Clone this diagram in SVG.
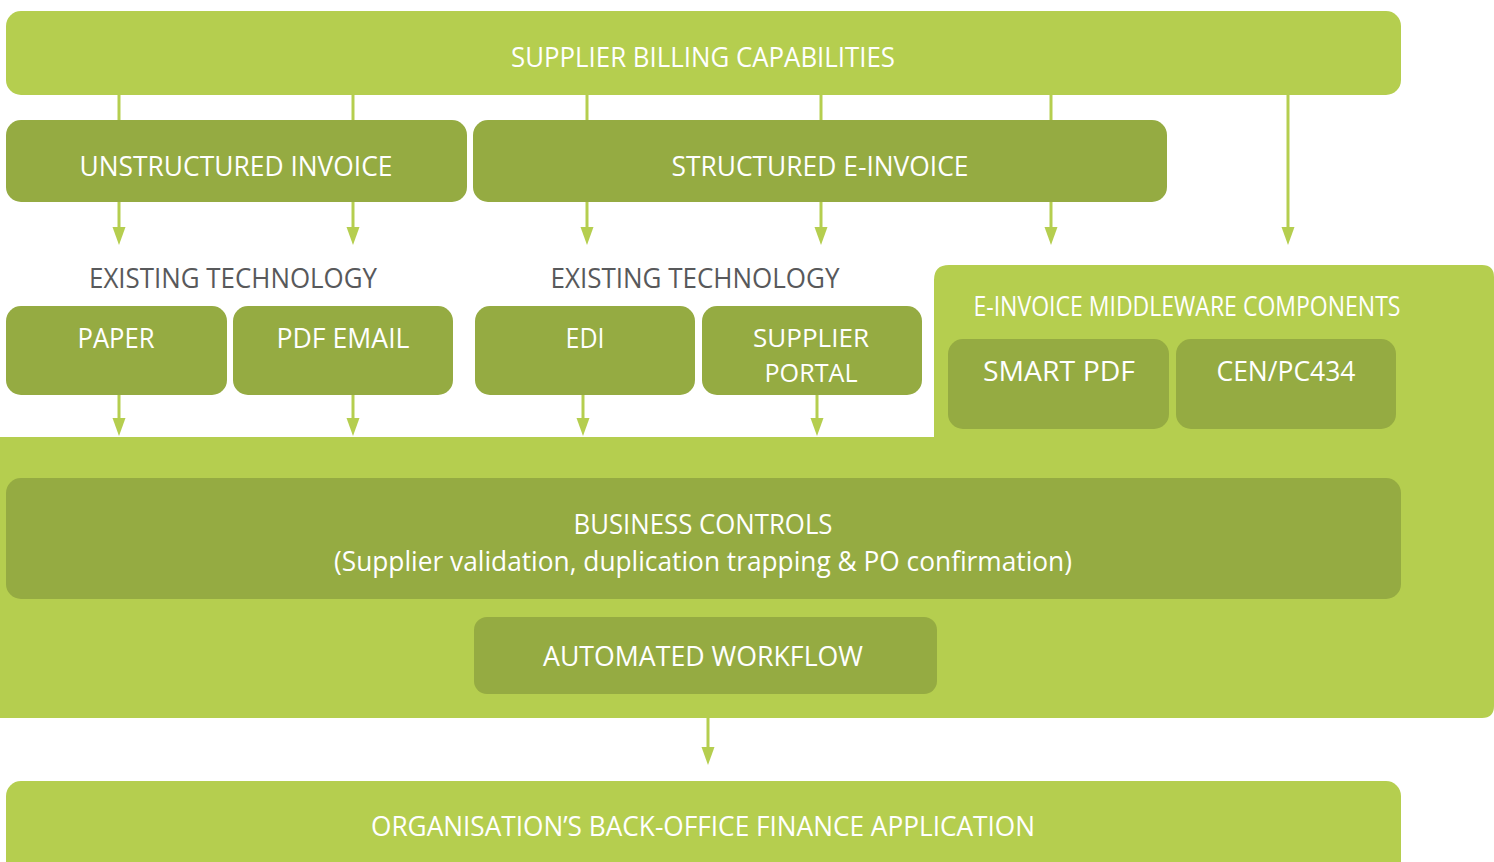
<svg xmlns="http://www.w3.org/2000/svg" width="1494" height="862" viewBox="0 0 1494 862">
<defs>
<style>
.lt{fill:#B5CE4F}
.dk{fill:#95AB42}
.t{font-family:"Open Sans","Liberation Sans",sans-serif;font-size:27px;fill:#ffffff;text-anchor:middle}
.g{font-family:"Open Sans","Liberation Sans",sans-serif;font-size:27px;fill:#58595B;text-anchor:middle}
.c{stroke:#B5CE4F;stroke-width:3;fill:none}
</style>
<marker id="ah" markerUnits="userSpaceOnUse" markerWidth="18" markerHeight="14" viewBox="0 -7 18 14" refX="0" refY="0" orient="auto">
<path d="M0,-6.5 L18,0 L0,6.5 Z" fill="#B5CE4F"/>
</marker>
</defs>
<rect width="1494" height="862" fill="#ffffff"/>
<g id="connectors">
<line class="c" x1="119" y1="95" x2="119" y2="227" marker-end="url(#ah)"/>
<line class="c" x1="353" y1="95" x2="353" y2="227" marker-end="url(#ah)"/>
<line class="c" x1="587" y1="95" x2="587" y2="227" marker-end="url(#ah)"/>
<line class="c" x1="821" y1="95" x2="821" y2="227" marker-end="url(#ah)"/>
<line class="c" x1="1051" y1="95" x2="1051" y2="227" marker-end="url(#ah)"/>
<line class="c" x1="1288" y1="95" x2="1288" y2="227" marker-end="url(#ah)"/>
<line class="c" x1="119" y1="395" x2="119" y2="418" marker-end="url(#ah)"/>
<line class="c" x1="353" y1="395" x2="353" y2="418" marker-end="url(#ah)"/>
<line class="c" x1="583" y1="395" x2="583" y2="418" marker-end="url(#ah)"/>
<line class="c" x1="817" y1="395" x2="817" y2="418" marker-end="url(#ah)"/>
<line class="c" x1="708" y1="718" x2="708" y2="747" marker-end="url(#ah)"/>
</g>
<g id="platform">
<path class="lt" d="M0,437 H934 V280 Q934,265 949,265 H1482 Q1494,265 1494,277 V706 Q1494,718 1482,718 H0 Z"/>
<text class="t" x="1187" y="316" textLength="427" lengthAdjust="spacingAndGlyphs">E-INVOICE MIDDLEWARE COMPONENTS</text>
</g>
<g id="supplier-billing">
<rect class="lt" x="6" y="11" width="1395" height="84" rx="15"/>
<text class="t" x="703" y="67" textLength="384" lengthAdjust="spacingAndGlyphs">SUPPLIER BILLING CAPABILITIES</text>
</g>
<g id="unstructured">
<rect class="dk" x="6" y="120" width="461" height="82" rx="15"/>
<text class="t" x="236" y="176" textLength="313" lengthAdjust="spacingAndGlyphs">UNSTRUCTURED INVOICE</text>
</g>
<g id="structured">
<rect class="dk" x="473" y="120" width="694" height="82" rx="15"/>
<text class="t" x="820" y="176" textLength="297" lengthAdjust="spacingAndGlyphs">STRUCTURED E-INVOICE</text>
</g>
<g id="existing-1">
<text class="g" x="233" y="288" textLength="288" lengthAdjust="spacingAndGlyphs">EXISTING TECHNOLOGY</text>
</g>
<g id="existing-2">
<text class="g" x="695" y="288" textLength="289" lengthAdjust="spacingAndGlyphs">EXISTING TECHNOLOGY</text>
</g>
<g id="paper">
<rect class="dk" x="6" y="306" width="221" height="89" rx="15"/>
<text class="t" x="116" y="348" textLength="77" lengthAdjust="spacingAndGlyphs">PAPER</text>
</g>
<g id="pdf-email">
<rect class="dk" x="233" y="306" width="220" height="89" rx="15"/>
<text class="t" x="343" y="348" textLength="133" lengthAdjust="spacingAndGlyphs">PDF EMAIL</text>
</g>
<g id="edi">
<rect class="dk" x="475" y="306" width="220" height="89" rx="15"/>
<text class="t" x="585" y="348" textLength="39" lengthAdjust="spacingAndGlyphs">EDI</text>
</g>
<g id="supplier-portal">
<rect class="dk" x="702" y="306" width="220" height="89" rx="15"/>
<text class="t" style="font-size:26px"><tspan x="811" y="347" textLength="116" lengthAdjust="spacingAndGlyphs">SUPPLIER</tspan><tspan x="811" y="382" textLength="93" lengthAdjust="spacingAndGlyphs">PORTAL</tspan></text>
</g>
<g id="smart-pdf">
<rect class="dk" x="948" y="339" width="221" height="90" rx="15"/>
<text class="t" x="1059" y="381" textLength="152" lengthAdjust="spacingAndGlyphs">SMART PDF</text>
</g>
<g id="cen-pc434">
<rect class="dk" x="1176" y="339" width="220" height="90" rx="15"/>
<text class="t" x="1286" y="381" textLength="139" lengthAdjust="spacingAndGlyphs">CEN/PC434</text>
</g>
<g id="business-controls">
<rect class="dk" x="6" y="478" width="1395" height="121" rx="15"/>
<text class="t"><tspan x="703" y="534" textLength="259" lengthAdjust="spacingAndGlyphs">BUSINESS CONTROLS</tspan><tspan x="703" y="571" textLength="738" lengthAdjust="spacingAndGlyphs">(Supplier validation, duplication trapping &amp; PO confirmation)</tspan></text>
</g>
<g id="automated-workflow">
<rect class="dk" x="474" y="617" width="463" height="77" rx="13"/>
<text class="t" x="703" y="666" textLength="320" lengthAdjust="spacingAndGlyphs">AUTOMATED WORKFLOW</text>
</g>
<g id="back-office">
<rect class="lt" x="6" y="781" width="1395" height="110" rx="15"/>
<text class="t" x="703" y="836" textLength="664" lengthAdjust="spacingAndGlyphs">ORGANISATION’S BACK-OFFICE FINANCE APPLICATION</text>
</g>
</svg>
